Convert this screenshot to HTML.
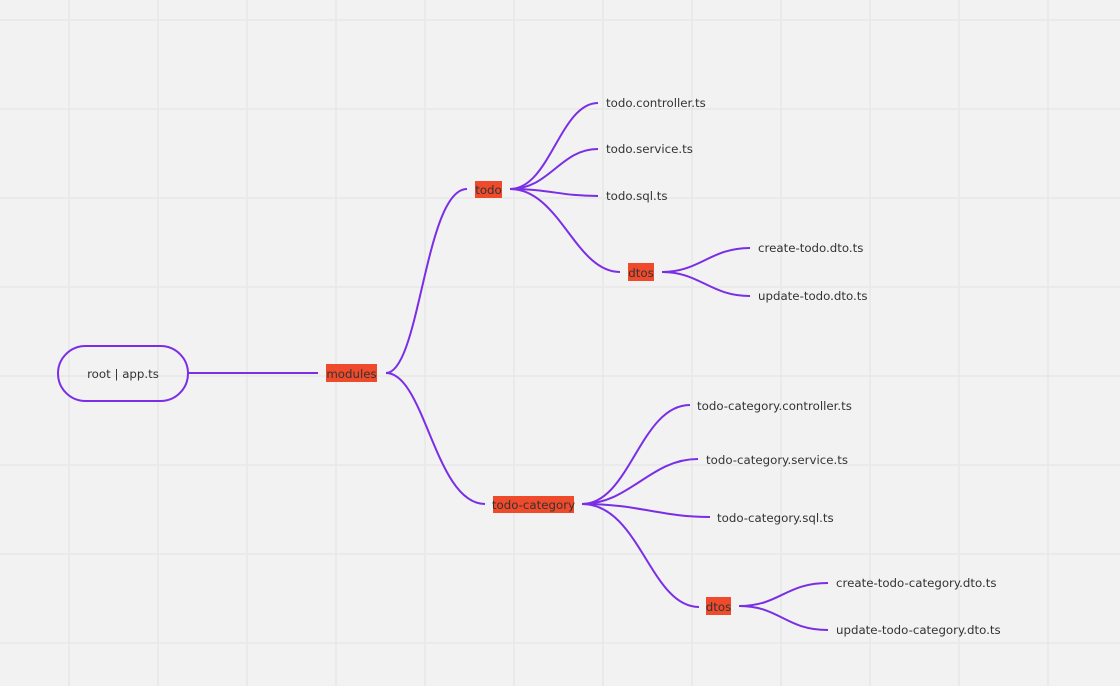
<!DOCTYPE html>
<html><head><meta charset="utf-8"><style>
html,body{margin:0;padding:0;width:1120px;height:686px;overflow:hidden;background:#f2f2f2}
svg{position:absolute;left:0;top:0}
text{font-family:"DejaVu Sans",sans-serif;font-size:11.8px;fill:#333}
</style></head><body>
<svg width="1120" height="686" viewBox="0 0 1120 686">
<g stroke="#e6e6e6" stroke-width="1.2">
<line x1="69" y1="0" x2="69" y2="686"/><line x1="158" y1="0" x2="158" y2="686"/><line x1="247" y1="0" x2="247" y2="686"/><line x1="336" y1="0" x2="336" y2="686"/><line x1="425" y1="0" x2="425" y2="686"/><line x1="514" y1="0" x2="514" y2="686"/><line x1="603" y1="0" x2="603" y2="686"/><line x1="692" y1="0" x2="692" y2="686"/><line x1="781" y1="0" x2="781" y2="686"/><line x1="870" y1="0" x2="870" y2="686"/><line x1="959" y1="0" x2="959" y2="686"/><line x1="1048" y1="0" x2="1048" y2="686"/>
<line x1="0" y1="20" x2="1120" y2="20"/><line x1="0" y1="109" x2="1120" y2="109"/><line x1="0" y1="198" x2="1120" y2="198"/><line x1="0" y1="287" x2="1120" y2="287"/><line x1="0" y1="376" x2="1120" y2="376"/><line x1="0" y1="465" x2="1120" y2="465"/><line x1="0" y1="554" x2="1120" y2="554"/><line x1="0" y1="643" x2="1120" y2="643"/>
</g>
<g fill="none" stroke="#7a2ee6" stroke-width="2">
<rect x="58" y="346" width="130" height="55" rx="27.5"/>
<path d="M188 373 H318"/>
<path d="M386 373 C420 373 425 189 467 189"/>
<path d="M386 373 C425 373 435 504 485 504"/>
<path d="M510 189 C550 189 560 103 598 103"/>
<path d="M510 189 C550 189 560 149 598 149"/>
<path d="M510 189 C550 189 560 196 598 196"/>
<path d="M510 189 C560 189 575 272 620 272"/>
<path d="M662 272 C700 272 710 248 750 248"/>
<path d="M662 272 C700 272 710 296 750 296"/>
<path d="M582 504 C630 504 640 405 690 405"/>
<path d="M582 504 C630 504 650 459 698 459"/>
<path d="M582 504 C640 504 660 517 710 517"/>
<path d="M582 504 C640 504 650 607 699 607"/>
<path d="M739 606 C780 606 785 583 828 583"/>
<path d="M739 606 C780 606 785 630 828 630"/>
</g>
<g fill="#ef4a2b">
<rect x="326" y="364" width="51" height="18"/>
<rect x="475" y="181" width="27" height="17"/>
<rect x="628" y="263" width="26" height="18"/>
<rect x="493" y="496" width="81" height="17"/>
<rect x="706" y="597" width="25" height="18"/>
</g>
<text x="123" y="378" text-anchor="middle">root | app.ts</text>
<text x="351.5" y="378" text-anchor="middle">modules</text>
<text x="488.5" y="194" text-anchor="middle">todo</text>
<text x="641" y="277" text-anchor="middle">dtos</text>
<text x="533.5" y="509" text-anchor="middle">todo-category</text>
<text x="718.5" y="611" text-anchor="middle">dtos</text>
<text x="606" y="107">todo.controller.ts</text>
<text x="606" y="153">todo.service.ts</text>
<text x="606" y="200">todo.sql.ts</text>
<text x="758" y="252">create-todo.dto.ts</text>
<text x="758" y="300">update-todo.dto.ts</text>
<text x="697" y="410">todo-category.controller.ts</text>
<text x="706" y="464">todo-category.service.ts</text>
<text x="717" y="522">todo-category.sql.ts</text>
<text x="836" y="587">create-todo-category.dto.ts</text>
<text x="836" y="634">update-todo-category.dto.ts</text>
</svg>
</body></html>
